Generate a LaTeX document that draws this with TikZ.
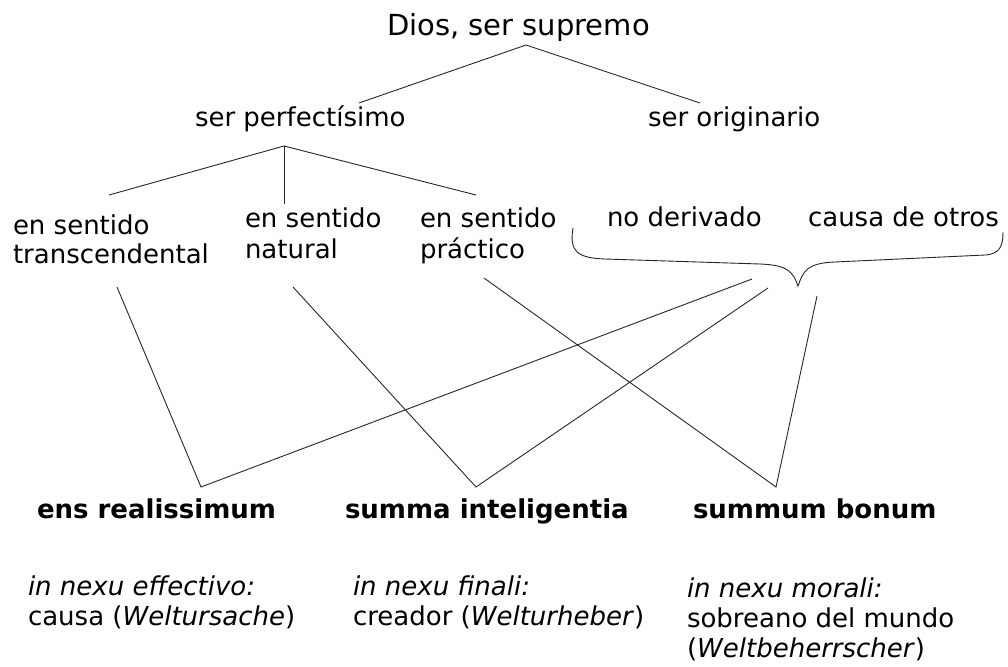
\documentclass[tikz,border=0pt]{standalone}
\usepackage{fontspec}
\setmainfont{DejaVu Sans}
\begin{document}
\begin{tikzpicture}[x=1pt,y=-1pt,
  lbl/.style={anchor=base west,inner sep=0pt,outer sep=0pt,align=left,font=\fontsize{26}{30}\selectfont},
  ttl/.style={lbl,font=\fontsize{29}{34}\selectfont},
  bld/.style={lbl,font=\bfseries\fontsize{26}{30}\selectfont},
  conn/.style={draw=black!85,line width=0.9pt}]
\useasboundingbox (0,0) rectangle (1008,666);
% texts (anchor = baseline of last line)
\node[ttl] (dios) at (387,36) {Dios, ser supremo};
\node[lbl] (perf) at (195,127) {ser perfectísimo};
\node[lbl] (orig) at (648,127) {ser originario};
\node[lbl,font=\fontsize{26}{28.5}\selectfont] (trans) at (13,263) {en sentido\\transcendental};
\node[lbl,font=\fontsize{26}{31}\selectfont] (nat) at (245,258) {en sentido\\natural};
\node[lbl,font=\fontsize{26}{31}\selectfont] (prac) at (420,258) {en sentido\\práctico};
\node[lbl] (noder) at (607,226) {no derivado};
\node[lbl] (causa) at (808,226) {causa de otros};
\node[bld] (ens) at (37,518) {ens realissimum};
\node[bld] (summa) at (345,518) {summa inteligentia};
\node[bld] (bonum) at (693,518) {summum bonum};
\node[lbl] (efec) at (28,625) {\textit{in nexu effectivo:}\\causa (\textit{Weltursache})};
\node[lbl] (fin) at (353,625) {\textit{in nexu finali:}\\creador (\textit{Welturheber})};
\node[lbl] (mor) at (687,657) {\textit{in nexu morali:}\\sobreano del mundo\\(\textit{Weltbeherrscher})};
% connector ends
\coordinate (diosA) at (526,45);
\coordinate (perfT) at (359,103);
\coordinate (origT) at (700,103);
\coordinate (perfA) at (284,146);
\coordinate (transT) at (109,195);
\coordinate (natT) at (284,204);
\coordinate (pracT) at (476,195);
\coordinate (transB) at (117,287);
\coordinate (natB) at (293,287);
\coordinate (pracB) at (484,278);
\coordinate (ensA) at (201,487);
\coordinate (sumA) at (476,487);
\coordinate (bonA) at (776,487);
\coordinate (br1) at (752,279);
\coordinate (br2) at (768,288);
\coordinate (br3) at (817,296);
\coordinate (braceL) at (573,228);
\coordinate (braceTip) at (798,286);
\coordinate (braceR) at (1003,232);
% connectors
\draw[conn] (perfT) -- (diosA) -- (origT);
\draw[conn] (perfA) -- (transT);
\draw[conn] (perfA) -- (natT);
\draw[conn] (perfA) -- (pracT);
\draw[conn] (transB) -- (ensA) -- (br1);
\draw[conn] (natB) -- (sumA) -- (br2);
\draw[conn] (pracB) -- (bonA) -- (br3);
\draw[conn] (braceL) .. controls (569,252) and (578,258) .. (605,259)
  -- (760,264) .. controls (788,265) and (793,272) .. (braceTip)
  .. controls (803,272) and (806,263) .. (835,262)
  -- (985,255) .. controls (1000,254) and (1003,246) .. (braceR);
\end{tikzpicture}
\end{document}
